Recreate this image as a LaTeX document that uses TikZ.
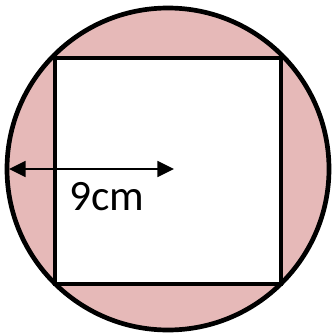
\documentclass[tikz,border=0pt]{standalone}
\usepackage{fontspec}
\setmainfont{Carlito}
\usetikzlibrary{arrows.meta}
\definecolor{discpink}{RGB}{230,185,184}
\begin{document}
\begin{tikzpicture}[x=0.03cm,y=-0.03cm]
    \useasboundingbox (0,0) rectangle (331,333);
    % 圆
    \coordinate (centre) at (168,169);
    \fill[discpink] (centre) circle (161);
    \draw[line width=4pt] (centre) circle (161);

    % 正方形
    \fill[white] (55,58) rectangle (281,284);
    \draw[line width=4pt] (55,58) rectangle (281,284);

    % 半径
    \coordinate (rim) at (9,169);
    \coordinate (tip) at (174,169);
    \draw[{Triangle[length=0.5cm,width=0.48cm]}-{Triangle[length=0.5cm,width=0.48cm]}, line width=1.4pt] (rim) -- (tip);
    \node (label) at (107,197) {\fontsize{37}{42}\selectfont 9cm};
\end{tikzpicture}
\end{document}
